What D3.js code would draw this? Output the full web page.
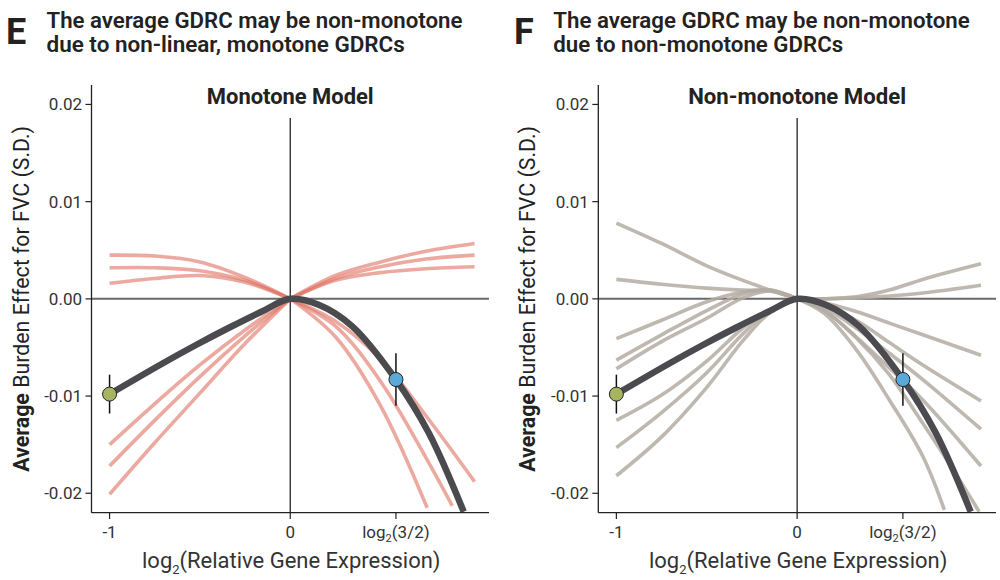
<!DOCTYPE html>
<html>
<head>
<meta charset="utf-8">
<script src="https://cdn.jsdelivr.net/npm/d3@7"></script>
<style>
  html, body { margin: 0; padding: 0; background: #fff; }
  svg { display: block; font-family: Roboto, "Noto Sans", sans-serif; }
</style>
</head>
<body>
<svg id="chart" width="1000" height="580"></svg>
<script>
// ---------------- DATA ----------------
const yTicks = [-0.02, -0.01, 0, 0.01, 0.02];
const yTickLabels = ["-0.02", "-0.01", "0.00", "0.01", "0.02"];
const xTicks = [-1, 0, Math.log2(1.5)];
const xTickLabels = ["-1", "0", "log2(3/2)"];

// left halves share one x grid
const leftGridRed = [-1, -0.75, -0.5, -0.25, 0];
const redLeftY = [
  [0.0045, 0.0044, 0.0038, 0.0022, 0],
  [0.0032, 0.0032, 0.0029, 0.0019, 0],
  [0.0016, 0.0021, 0.0024, 0.0017, 0],
  [-0.0150, -0.0108, -0.0068, -0.0032, 0],
  [-0.0172, -0.0125, -0.0080, -0.0038, 0],
  [-0.0201, -0.0148, -0.0097, -0.0046, 0]
];
const redRightX = [
  [0, 0.25, 0.5, 0.75, 1.02],
  [0, 0.25, 0.5, 0.75, 1.02],
  [0, 0.25, 0.5, 0.75, 1.02],
  [0, 0.25, 0.5, 0.75, 1.02],
  [0, 0.25, 0.5, 0.75, 0.897],
  [0, 0.25, 0.5, 0.758]
];
const redRightY = [
  [0, 0.0024, 0.0038, 0.0049, 0.0057],
  [0, 0.0021, 0.0033, 0.0041, 0.0045],
  [0, 0.0019, 0.0027, 0.0031, 0.0033],
  [0, -0.0023, -0.0062, -0.0120, -0.0188],
  [0, -0.0028, -0.0085, -0.0163, -0.0213],
  [0, -0.0039, -0.0110, -0.0215]
];

const leftGridGray = [-1, -0.75, -0.5, -0.3, -0.15, 0];
const grayLeftY = [
  [0.0078, 0.0057, 0.0034, 0.0019, 0.0009, 0],
  [0.0020, 0.0015, 0.0011, 0.0009, 0.0008, 0],
  [-0.0041, -0.0022, -0.0003, 0.0007, 0.0009, 0],
  [-0.0063, -0.0037, -0.0012, 0.0005, 0.0009, 0],
  [-0.0072, -0.0044, -0.0020, 0.0001, 0.0008, 0],
  [-0.0125, -0.0099, -0.0064, -0.0030, -0.0011, 0],
  [-0.0153, -0.0117, -0.0076, -0.0036, -0.0012, 0],
  [-0.0182, -0.0142, -0.0091, -0.0043, -0.0014, 0]
];
const grayRightX = [
  [0, 0.15, 0.326, 0.51, 0.695, 1.017],
  [0, 0.15, 0.326, 0.51, 0.695, 1.017],
  [0, 0.15, 0.326, 0.51, 0.695, 1.017],
  [0, 0.15, 0.326, 0.51, 0.695, 1.017],
  [0, 0.15, 0.326, 0.51, 0.695, 1.017],
  [0, 0.15, 0.326, 0.51, 0.695, 1.017],
  [0, 0.15, 0.326, 0.51, 0.695, 0.85, 1.007],
  [0, 0.15, 0.326, 0.51, 0.695, 0.814]
];
const grayRightY = [
  [0, 0.0000, 0.0002, 0.0009, 0.0020, 0.0036],
  [0, 0.0000, 0.0001, 0.0003, 0.0006, 0.0014],
  [0, -0.0004, -0.0013, -0.0025, -0.0037, -0.0058],
  [0, -0.0007, -0.0022, -0.0045, -0.0068, -0.0105],
  [0, -0.0009, -0.0030, -0.0056, -0.0083, -0.0134],
  [0, -0.0012, -0.0039, -0.0071, -0.0104, -0.0172],
  [0, -0.0012, -0.0040, -0.0078, -0.0128, -0.0172, -0.0219],
  [0, -0.0015, -0.0052, -0.0104, -0.0162, -0.0217]
];

const avgX = [-1, -0.712, -0.527, -0.342, -0.157, 0, 0.157, 0.342, 0.585, 0.767, 0.96];
const avgY = [-0.0098, -0.0067, -0.0048, -0.0030, -0.0013, 0, -0.0006, -0.0028, -0.0083, -0.0138, -0.0219];

const pointX = [-1, Math.log2(1.5)];
const pointY = [-0.0098, -0.0083];
const pointErr = [0.0020, 0.0027];
const pointColors = ["#a7b563", "#5aa9d7"];

const panelLetters = ["E", "F"];
const panelTitles = [
  ["The average GDRC may be non-monotone", "due to non-linear, monotone GDRCs"],
  ["The average GDRC may be non-monotone", "due to non-monotone GDRCs"]
];
const panelSubtitles = ["Monotone Model", "Non-monotone Model"];

// ---------------- DRAW ----------------
const svg = d3.select("#chart");
const ink = "#222";

function fitWidth(sel, target) {
  const n = sel.node();
  const w = n.getBBox().width;
  const fs = parseFloat(sel.attr("font-size"));
  sel.attr("font-size", fs * target / w);
}
function squeeze(sel, target) {
  const w = sel.node().getComputedTextLength();
  if (w > target) sel.attr("textLength", target).attr("lengthAdjust", "spacingAndGlyphs");
  else fitWidth(sel, target);
}

const panels = [
  { x0: 91.5, x1: 489, titleX: 46.5, letterX: 6, t1w: 416, t2w: 358.5, subW: 167, redMode: true, xlabW: 299 },
  { x0: 598.3, x1: 996, titleX: 553.3, letterX: 514, t1w: 416.5, t2w: 290, subW: 218, redMode: false, xlabW: 299 }
];

const yScale = d3.scaleLinear().domain([-0.022, 0.022]).range([512.7, 85]);

panels.forEach((p, i) => {
  const x = d3.scaleLinear().domain([-1.1, 1.1]).range([p.x0, p.x1]);
  const y = yScale;
  const g = svg.append("g");
  const line = d3.line().x(d => x(d[0])).y(d => y(d[1])).curve(d3.curveCatmullRom.alpha(0.5));

  // panel letter and titles
  g.append("text").attr("x", p.letterX).attr("y", 44).attr("font-size", 36)
    .attr("font-weight", 700).attr("fill", ink).text(panelLetters[i]);
  const t1 = g.append("text").attr("x", p.titleX).attr("y", 27.5).attr("font-size", 20.5)
    .attr("font-weight", 600).attr("fill", ink).text(panelTitles[i][0]);
  squeeze(t1, p.t1w);
  const t2 = g.append("text").attr("x", p.titleX).attr("y", 51.5).attr("font-size", 20.5)
    .attr("font-weight", 600).attr("fill", ink).text(panelTitles[i][1]);
  squeeze(t2, p.t2w);

  const st = g.append("text").attr("x", x(0)).attr("y", 103.5).attr("text-anchor", "middle")
    .attr("font-size", 19.5).attr("font-weight", 700).attr("fill", ink).text(panelSubtitles[i]);
  squeeze(st, p.subW);

  // zero lines
  g.append("line").attr("x1", p.x0).attr("x2", p.x1).attr("y1", y(0)).attr("y2", y(0))
    .attr("stroke", "#6a6a6a").attr("stroke-width", 2);
  g.append("line").attr("x1", x(0)).attr("x2", x(0)).attr("y1", y(0.0186)).attr("y2", y(-0.022))
    .attr("stroke", ink).attr("stroke-width", 1.3);

  // individual curves
  const curves = [];
  if (p.redMode) {
    redLeftY.forEach(ys => curves.push(leftGridRed.map((xv, k) => [xv, ys[k]])));
    redRightX.forEach((xs, c) => curves.push(xs.map((xv, k) => [xv, redRightY[c][k]])));
  } else {
    grayLeftY.forEach(ys => curves.push(leftGridGray.map((xv, k) => [xv, ys[k]])));
    grayRightX.forEach((xs, c) => curves.push(xs.map((xv, k) => [xv, grayRightY[c][k]])));
  }
  g.append("g").selectAll("path").data(curves).join("path")
    .attr("d", line)
    .attr("fill", "none")
    .attr("stroke", p.redMode ? "#e17565" : "#b3aba3")
    .attr("stroke-opacity", p.redMode ? 0.62 : 0.85)
    .attr("stroke-width", 3.6);

  // average curve
  g.append("path").datum(avgX.map((xv, k) => [xv, avgY[k]]))
    .attr("d", line).attr("fill", "none").attr("stroke", "#4a4a4f").attr("stroke-width", 6.5);

  // points with error bars
  pointX.forEach((xv, k) => {
    g.append("line").attr("x1", x(xv)).attr("x2", x(xv))
      .attr("y1", y(pointY[k] + pointErr[k])).attr("y2", y(pointY[k] - pointErr[k]))
      .attr("stroke", "#111").attr("stroke-width", 1.5);
    g.append("circle").attr("cx", x(xv)).attr("cy", y(pointY[k])).attr("r", 7)
      .attr("fill", pointColors[k]).attr("stroke", "#222").attr("stroke-width", 1);
  });

  // spines
  g.append("line").attr("x1", p.x0).attr("x2", p.x0).attr("y1", 85).attr("y2", 512.7)
    .attr("stroke", ink).attr("stroke-width", 1.3);
  g.append("line").attr("x1", p.x0).attr("x2", p.x1).attr("y1", 512.7).attr("y2", 512.7)
    .attr("stroke", ink).attr("stroke-width", 1.3);

  // y ticks
  yTicks.forEach((tv, k) => {
    g.append("line").attr("x1", p.x0 - 6).attr("x2", p.x0).attr("y1", y(tv)).attr("y2", y(tv))
      .attr("stroke", ink).attr("stroke-width", 1.2);
    g.append("text").attr("x", p.x0 - 9.5).attr("y", y(tv)).attr("dy", "0.35em")
      .attr("text-anchor", "end").attr("font-size", 17).attr("fill", "#333").text(yTickLabels[k]);
  });
  // x ticks
  xTicks.forEach((tv, k) => {
    g.append("line").attr("x1", x(tv)).attr("x2", x(tv)).attr("y1", 512.7).attr("y2", 519)
      .attr("stroke", ink).attr("stroke-width", 1.2);
    const t = g.append("text").attr("x", x(tv)).attr("y", 537.5).attr("text-anchor", "middle")
      .attr("font-size", 17).attr("fill", "#333");
    if (xTickLabels[k].startsWith("log2")) {
      t.append("tspan").text("log");
      t.append("tspan").attr("font-size", 11).attr("dy", 4).text("2");
      t.append("tspan").attr("dy", -4).text(xTickLabels[k].slice(4));
    } else {
      t.text(xTickLabels[k]);
    }
  });

  // x axis label
  const xl = g.append("text").attr("x", x(0) + 1).attr("y", 567.5).attr("text-anchor", "middle")
    .attr("font-size", 21).attr("fill", "#333");
  xl.append("tspan").text("log");
  xl.append("tspan").attr("font-size", 13).attr("dy", 6).text("2");
  xl.append("tspan").attr("dy", -6).text("(Relative Gene Expression)");
  fitWidth(xl, p.xlabW);

  // y axis label
  const yl = g.append("text")
    .attr("transform", `translate(${p.x0 - 63},${y(0) + 0}) rotate(-90)`)
    .attr("text-anchor", "middle").attr("font-size", 20).attr("fill", ink);
  yl.append("tspan").attr("font-weight", 700).text("Average");
  yl.append("tspan").attr("font-weight", 400).text(" Burden Effect for FVC (S.D.)");
  fitWidth(yl, 346);
});
</script>
</body>
</html>
